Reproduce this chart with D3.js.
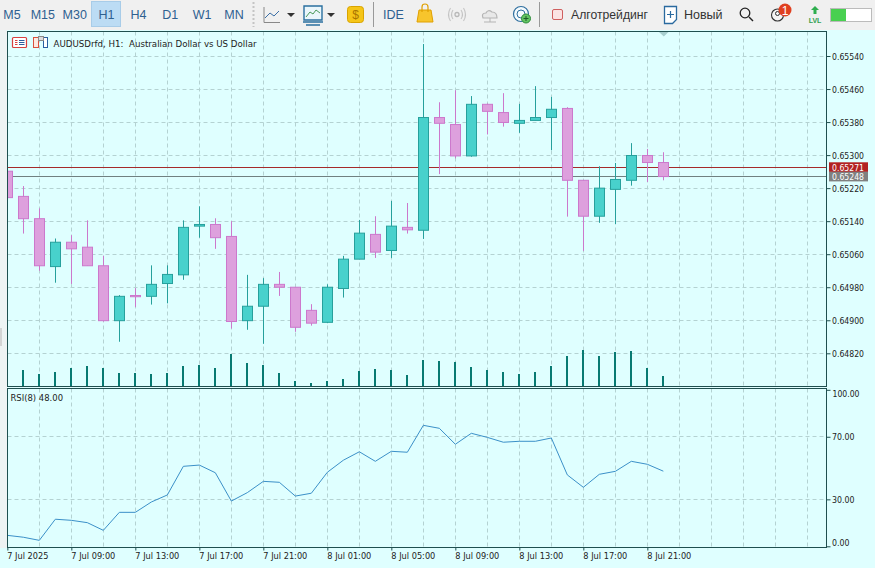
<!DOCTYPE html>
<html><head><meta charset="utf-8">
<script src="https://cdn.jsdelivr.net/npm/d3@7/dist/d3.min.js"></script>
<style>
html,body{margin:0;padding:0;background:#dfffff;overflow:hidden}
svg{display:block}
text{font-family:"Liberation Sans",Arial,sans-serif}
.ax text,.fit{font-family:"DejaVu Sans",sans-serif;font-size:9.5px;fill:#222}
.ax path,.ax line{stroke:#1f4f4f}
</style></head><body><svg id="c" width="875" height="568"></svg>
<script>
const symbolTitle = "AUDUSDrfd, H1:  Australian Dollar vs US Dollar";
const rsiTitle = "RSI(8) 48.00";
const periods = ["M5","M15","M30","H1","H4","D1","W1","MN"];
const priceTicks = [0.6482,0.649,0.6498,0.6506,0.6514,0.6522,0.653,0.6538,0.6546,0.6554];
const rsiTicks = [100,70,30,0];
const rsiGrid = [70,30];
const timeTickIdx = [0,4,8,12,16,20,24,28,32,36,40];
const timeLabels = ["7 Jul 2025","7 Jul 09:00","7 Jul 13:00","7 Jul 17:00","7 Jul 21:00","8 Jul 01:00","8 Jul 05:00","8 Jul 09:00","8 Jul 13:00","8 Jul 17:00","8 Jul 21:00"];
const open = [.65261,.65200,.65146,.65030,.65089,.65077,.65032,.64899,.64960,.64958,.64989,.65010,.65128,.65132,.65103,.64899,.64934,.64987,.64980,.64924,.64895,.64977,.65048,.65108,.65069,.65125,.65118,.65391,.65374,.65298,.65423,.65403,.65377,.65384,.65391,.65413,.65239,.65152,.65217,.65239,.65299,.65282];
const close = [.65197,.65146,.65032,.65089,.65073,.65032,.64899,.64958,.64957,.64987,.65011,.65125,.65132,.65100,.64897,.64934,.64987,.64980,.64883,.64893,.64980,.65048,.65111,.65065,.65128,.65119,.65391,.65377,.65298,.65423,.65406,.65379,.65384,.65391,.65411,.65239,.65152,.65220,.65241,.65299,.65282,.65248];
const high = [.65261,.65225,.65171,.65098,.65106,.65142,.65056,.64961,.64978,.65033,.65033,.65142,.65176,.65147,.65140,.65010,.65002,.65017,.64980,.64939,.64987,.65056,.65143,.65152,.65189,.65184,.65569,.65428,.65457,.65443,.65425,.65450,.65424,.65467,.65441,.65416,.65239,.65273,.65281,.65329,.65315,.65307];
const low = [.65197,.65110,.65020,.64991,.64988,.65032,.64897,.64848,.64932,.64938,.64941,.64998,.65100,.65073,.64880,.64877,.64843,.64959,.64872,.64887,.64893,.64955,.65048,.65051,.65051,.65110,.65097,.65254,.65292,.65296,.65350,.65369,.65354,.65384,.65312,.65151,.65068,.65136,.65133,.65226,.65235,.65239];
const volume = [0,1600,1200,1400,1800,2000,1800,1300,1300,1200,1300,2000,2100,1800,3200,2300,2100,1300,500,300,500,700,1500,1700,1600,1100,2600,2500,2400,1900,1600,1400,1200,1400,2000,3000,3600,3000,3400,3500,1800,1000];
const rsi = [7,5.8,3.8,17.3,16.6,15.1,10.2,21.7,21.7,28.3,32.8,51.1,51.9,47,28.9,34.3,41.5,40.9,32.1,33.9,47.3,55,60.4,54.3,60.7,60.1,77.3,75.4,65.2,72.2,69.6,66.5,67.1,67.1,69.2,45.6,37.7,46,47.9,54.3,52.4,48];
const askPrice = 0.65271, bidPrice = 0.65248;

const L=7.5,R=826.5,T=31.5,B1=386.5,T2=388.5,B2=547.5;
const svg=d3.select("#c");
const C={bg:"#dfffff",bar:"#f0f0f0",border:"#1f4f4f",grid:"#b4d2d2",up:"#48d1cc",upS:"#26a09c",dn:"#dda0dd",dnS:"#cc78cc",vol:"#087a72",rsi:"#3b90c8",ask:"#a52a2a",bid:"#708080",txt:"#2e6090"};

const x=d3.scaleLinear().domain([0,1]).range([7.33,23.33]);
const y=d3.scaleLinear().domain([0.6482,0.6554]).range([353.3,56]);
const yv=d3.scaleLinear().domain([0,3600]).range([386,350]);
const yr=d3.scaleLinear().domain([0,100]).range([546.3,389.8]);
const gridIdx=d3.range(2,51,2);
const snap=v=>Math.round(v-0.5)+0.5;
const fit=(sel,f)=>sel.attr("textLength",f).attr("lengthAdjust","spacingAndGlyphs");

const defs=svg.append("defs");
defs.append("clipPath").attr("id","m").append("rect").attr("x",L).attr("y",T).attr("width",R-L).attr("height",B1-T);

// chrome
svg.append("rect").attr("width",875).attr("height",30).attr("fill",C.bar);
svg.append("rect").attr("y",30).attr("width",7).attr("height",518).attr("fill","#eef3f3");
svg.append("rect").attr("y",328).attr("width",2).attr("height",18).attr("fill","#d4d4d4");
const tb=svg.append("g");
tb.append("rect").attr("x",91.5).attr("y",1.5).attr("width",29).attr("height",25).attr("fill","#bcdcf4").attr("stroke","#a8cce8");
const px=d3.scalePoint().domain(periods).range([11,234]);
tb.selectAll("text.p").data(periods).join("text").attr("class","p").attr("x",d=>px(d)+(d=="M5"?1:0)).attr("y",19).attr("text-anchor","middle").attr("font-size",12.5).attr("fill",C.txt).text(d=>d);
const ln=(d,s,w=1,f="none")=>tb.append("path").attr("d",d).attr("stroke",s).attr("stroke-width",w).attr("fill",f);
ln("M253.5 2V27","#c4c4c4",2).attr("stroke-dasharray","2 2");
ln("M264 7V22.5H280","#888");
ln("M265 18L270 13L274 16L279 11","#3a6ea5");
ln("M287 13h8l-4 4z","none",0,"#333");
ln("M304 6h18v14h-18z","#2a6f9f",1.4,"#eaf6fb");
ln("M306 17l4-5 3 2 3-4 4 3","#4a9a5a");
ln("M303 22h20M306 25h14","#2a6f9f",1.4);
ln("M327 13h8l-4 4z","none",0,"#333");
tb.append("rect").attr("x",347.5).attr("y",6.5).attr("width",16).attr("height",16).attr("rx",3).attr("fill","#f5c518").attr("stroke","#d9a400");
tb.append("text").attr("x",355.5).attr("y",19).attr("text-anchor","middle").attr("font-size",12).attr("fill","#a87500").text("$");
ln("M373.5 2V27","#999");
tb.append("text").attr("x",393.5).attr("y",19).attr("text-anchor","middle").attr("font-size",12.5).attr("fill",C.txt).text("IDE");
ln("M419 10h12l2 12h-16z","#e0a000",1,"#f7c52c");
ln("M422 12V7q0-3 3-3t3 3v5","#e0a000",1.2);
tb.append("circle").attr("cx",457).attr("cy",14.5).attr("r",2).attr("fill","none").attr("stroke","#b8b8b8").attr("stroke-width",1.3);
ln("M453 10q-3 4.5 0 9M461 10q3 4.5 0 9M450.5 8q-4 6.5 0 13M463.5 8q4 6.5 0 13","#c4c4c4",1.1);
ln("M483 18q-2-5 3-5q2-4 6-1q5 0 5 6z","#b4b4b4",1.2,"#e8e8e8");
ln("M490 18v4M484 22h12","#b4b4b4",1);
tb.append("circle").attr("cx",521).attr("cy",14).attr("r",7.5).attr("fill","#f4fafd").attr("stroke","#2f6f9f").attr("stroke-width",1.2);
tb.append("circle").attr("cx",521).attr("cy",14).attr("r",4).attr("fill","none").attr("stroke","#2f6f9f");
tb.append("circle").attr("cx",526).attr("cy",18.5).attr("r",4.5).attr("fill","#62c462").attr("stroke","#2e8b3a");
ln("M523.5 18.5h5M526 16v5","#1c5a28");
ln("M539.5 2V27","#999");
tb.append("rect").attr("x",552.5).attr("y",9.5).attr("width",10).attr("height",10).attr("rx",1.5).attr("fill","#fbe3e3").attr("stroke","#cf5f5f");
tb.append("text").attr("x",571).attr("y",19).attr("font-size",12.5).attr("fill","#333").attr("textLength",77).attr("lengthAdjust","spacingAndGlyphs").text("Алготрейдинг");
ln("M664.5 6.5h12v13l-4 4h-8z","#2a6a9f",1.3,"#fff");
ln("M667 14.5h7M670.5 11v7","#2a6a9f",1.2);
tb.append("text").attr("x",684).attr("y",19).attr("font-size",12.5).attr("fill","#333").text("Новый");
tb.append("circle").attr("cx",745).attr("cy",13).attr("r",4.8).attr("fill","none").attr("stroke","#222").attr("stroke-width",1.3);
ln("M749 17l4 4","#222",1.5);
tb.append("circle").attr("cx",777.5).attr("cy",15).attr("r",6).attr("fill","#f4f4f4").attr("stroke","#333").attr("stroke-width",1.1);
tb.append("circle").attr("cx",777.5).attr("cy",13.5).attr("r",2).attr("fill","none").attr("stroke","#333");
tb.append("circle").attr("cx",785).attr("cy",10).attr("r",6.5).attr("fill","#e04020");
tb.append("text").attr("x",785).attr("y",14.5).attr("text-anchor","middle").attr("font-size",12).attr("fill","#fff").text("1");
ln("M815 6l-4 4h2.5v4h3v-4h2.5z","none",0,"#2fae4f");
tb.append("text").attr("x",815).attr("y",22.5).attr("text-anchor","middle").attr("font-size",7).attr("font-weight","bold").attr("fill","#2f9f4f").text("LVL");
tb.append("rect").attr("x",830.5).attr("y",8.5).attr("width",41).attr("height",13).attr("fill","#fff").attr("stroke","#bbb");
tb.append("rect").attr("x",831).attr("y",9).attr("width",15).attr("height",12).attr("fill","#48d050");

// grid
const grid=svg.append("g").attr("stroke",C.grid).attr("stroke-width",1).attr("stroke-dasharray","4 3");
grid.selectAll("line.v1").data(gridIdx).join("line").attr("class","v1").attr("x1",d=>snap(x(d))).attr("x2",d=>snap(x(d))).attr("y1",T).attr("y2",B1);
grid.selectAll("line.h1").data(priceTicks).join("line").attr("class","h1").attr("x1",L).attr("x2",R).attr("y1",d=>snap(y(d))).attr("y2",d=>snap(y(d)));
grid.selectAll("line.v2").data(gridIdx).join("line").attr("class","v2").attr("x1",d=>snap(x(d))).attr("x2",d=>snap(x(d))).attr("y1",T2).attr("y2",B2);
grid.selectAll("line.h2").data(rsiGrid).join("line").attr("class","h2").attr("x1",L).attr("x2",R).attr("y1",d=>snap(yr(d))).attr("y2",d=>snap(yr(d)));

const plot=svg.append("g").attr("clip-path","url(#m)");
// ask / bid as 1px filled bands
plot.selectAll("rect.q").data([[askPrice,C.ask],[bidPrice,C.bid]]).join("rect").attr("class","q").attr("x",L).attr("width",R-L).attr("y",d=>Math.floor(y(d[0]))).attr("height",1).attr("fill",d=>d[1]);
// volumes
plot.selectAll("rect.v").data(volume).join("rect").attr("class","v").attr("x",(d,i)=>Math.round(x(i))-1).attr("width",2).attr("y",d=>yv(d)).attr("height",d=>yv(0)-yv(d)).attr("fill",C.vol);
// candles
const candles=open.map((o,i)=>({i,o,c:close[i],h:high[i],l:low[i],up:close[i]>=o}));
const cg=plot.selectAll("g.k").data(candles).join("g").attr("class","k");
cg.append("rect").attr("x",d=>snap(x(d.i))-0.5).attr("width",1).attr("y",d=>y(d.h)).attr("height",d=>y(d.l)-y(d.h)).attr("fill",d=>d.up?C.upS:C.dnS);
cg.append("rect").attr("x",d=>snap(x(d.i))-5).attr("width",10).attr("y",d=>Math.min(y(d.o),y(d.c))).attr("height",d=>Math.max(1,Math.abs(y(d.o)-y(d.c)))).attr("fill",d=>d.up?C.up:C.dn).attr("stroke",d=>d.up?C.upS:C.dnS);
// rsi
svg.append("path").datum(rsi).attr("fill","none").attr("stroke",C.rsi).attr("stroke-width",1).attr("d",d3.line().x((d,i)=>x(i)).y(d=>yr(d)));
// frames
svg.append("rect").attr("x",L).attr("y",T).attr("width",R-L).attr("height",B1-T).attr("fill","none").attr("stroke",C.border);
svg.append("rect").attr("x",L).attr("y",T2).attr("width",R-L).attr("height",B2-T2).attr("fill","none").attr("stroke",C.border);
svg.append("path").attr("d","M659 32h9.5l-4.7 4.5z").attr("fill","#a8cfcf");
// axes
const pa=svg.append("g").attr("class","ax").attr("transform",`translate(${R},0)`).call(d3.axisRight(y).tickValues(priceTicks).tickFormat(d3.format(".5f")).tickSize(4).tickPadding(1.5));
pa.select(".domain").remove();
fit(pa.selectAll("text"),32);
const ra=svg.append("g").attr("class","ax").attr("transform",`translate(${R},0)`).call(d3.axisRight(yr).tickValues(rsiTicks).tickFormat(d3.format(".2f")).tickSize(4).tickPadding(1.5));
ra.select(".domain").remove();
ra.selectAll("text").attr("dy",d=>d==100?"0.75em":d==0?"-0.1em":"0.32em").attr("dx",d=>d==100?"0.5":"0");
fit(ra.selectAll("text"),d=>d==100?27:d==0?17.5:22.5);
const ta=svg.append("g").attr("class","ax").attr("transform",`translate(0,${B2})`).call(d3.axisBottom(x).tickValues(timeTickIdx).tickFormat((d,i)=>timeLabels[i]).tickSize(3).tickPadding(2));
ta.select(".domain").remove();
ta.selectAll("text").attr("text-anchor","start").attr("dx","-0.5").attr("dy","0.65em");
fit(ta.selectAll("text"),d=>d==0?41:44);
// price tags
const tags=[[askPrice,"#b22222",162.3,170.6],[bidPrice,"#808080",171.8,180.4]];
const tg=svg.append("g");
tg.selectAll("rect").data(tags).join("rect").attr("x",829).attr("width",39).attr("y",d=>d[2]).attr("height",9.6).attr("fill",d=>d[1]);
fit(tg.selectAll("text").data(tags).join("text").attr("class","fit").style("fill","#fff").attr("x",832).attr("y",d=>d[3]).text(d=>d3.format(".5f")(d[0])),32);
// titles
const ic=svg.append("g");
ic.append("rect").attr("x",12.5).attr("y",37.5).attr("width",14).attr("height",10).attr("rx",1).attr("fill","#fff").attr("stroke","#d84040").attr("stroke-width",1.2);
ic.append("path").attr("d","M15 40.5h2.5M15 42.5h2.5M15 44.5h2.5").attr("stroke","#d84040");
ic.append("path").attr("d","M19 40.5h5.5M19 42.5h5.5M19 44.5h5.5").attr("stroke","#2a5f9f");
ic.append("rect").attr("x",33.5).attr("y",37.5).attr("width",5).attr("height",10).attr("fill","#fde8e0").attr("stroke","#d8503c");
ic.append("rect").attr("x",43.5).attr("y",37.5).attr("width",4).attr("height",10).attr("fill","#fff").attr("stroke","#2a5f9f");
ic.append("rect").attr("x",38.5).attr("y",36.5).attr("width",5).attr("height",4).attr("fill","#ddd").attr("stroke","#888");
fit(svg.append("text").attr("class","fit").attr("x",53.5).attr("y",47).attr("xml:space","preserve").text(symbolTitle),203);
fit(svg.append("text").attr("class","fit").attr("x",10.5).attr("y",401).text(rsiTitle),52.5);
</script></body></html>
